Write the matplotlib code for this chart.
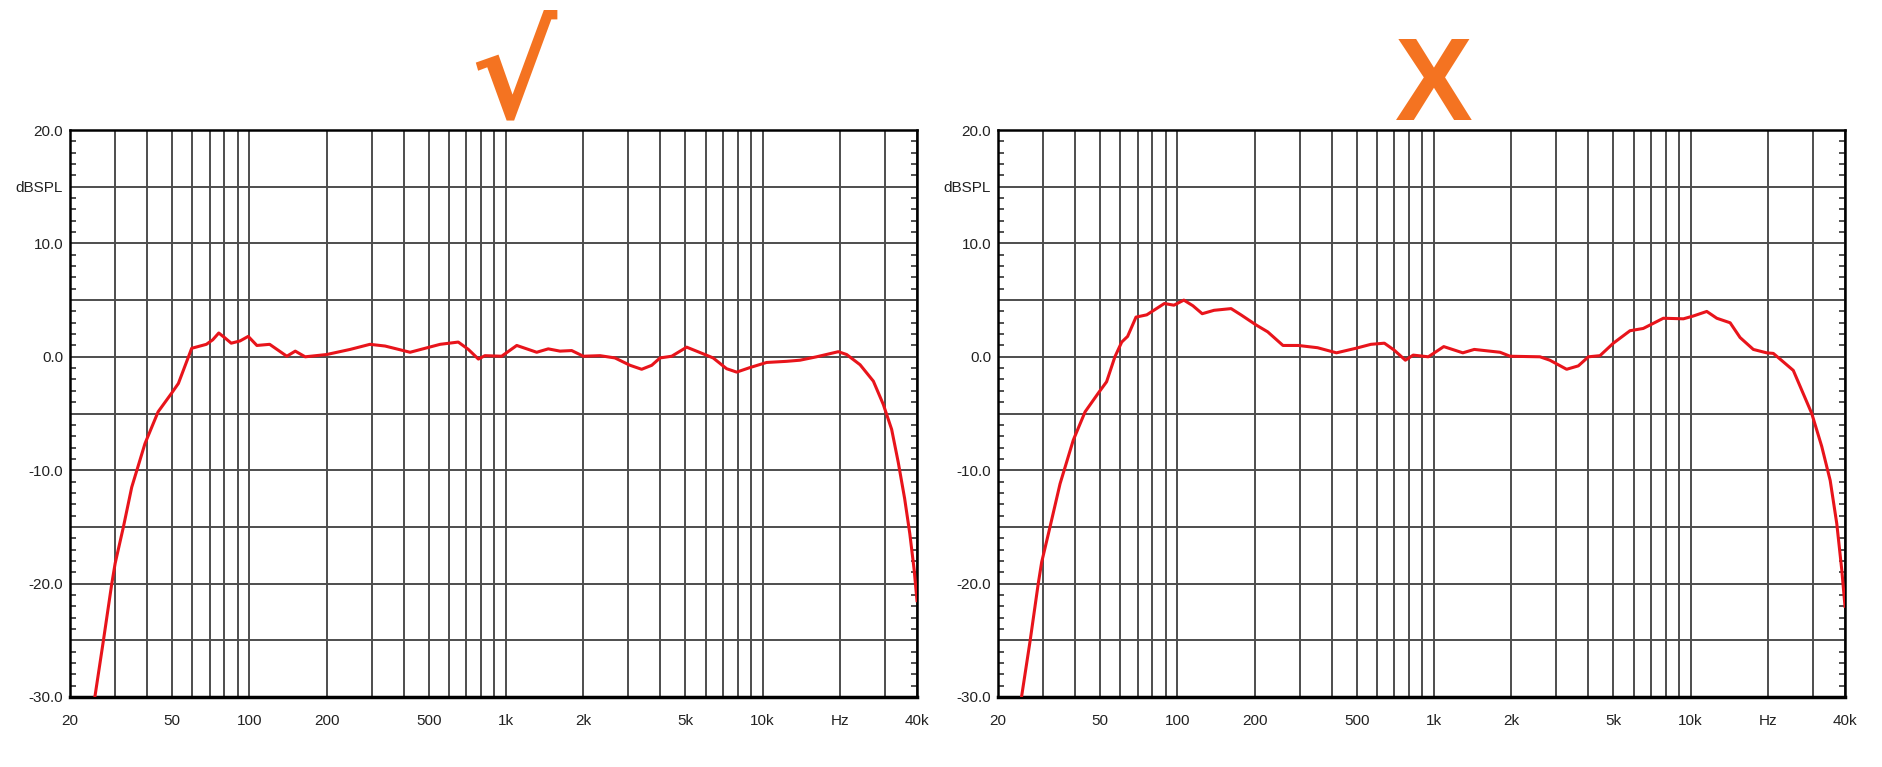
import matplotlib
matplotlib.use("Agg")
import matplotlib.pyplot as plt
from matplotlib.ticker import FixedLocator, FixedFormatter, MultipleLocator

# ---------------- data ----------------
left_freq = [25.0, 27, 29.1, 30, 32.3, 34.8, 39.2, 44.1, 49.8, 52.9, 59.6, 68, 72, 76, 80, 85, 92,
             99, 107, 120, 140, 151, 165, 200, 247, 295, 338, 423, 554, 652, 714, 781, 828, 962,
             1102, 1318, 1462, 1624, 1804, 2003, 2326, 2660, 3046, 3380, 3700, 3986, 4426, 5064,
             5963, 6420, 7245, 7930, 8935, 10370, 12410, 14000, 16240, 19740, 21280, 24000, 27040,
             29560, 31860, 33800, 35800, 37500, 39000, 40000]
left_db = [-30, -25, -20, -18.2, -15, -11.5, -7.65, -4.85, -3.2, -2.35, 0.75, 1.1, 1.5, 2.1, 1.7, 1.2, 1.4,
           1.8, 1.0, 1.1, 0.05, 0.5, 0.0, 0.2, 0.65, 1.1, 0.95, 0.4, 1.1, 1.3, 0.65, -0.2, 0.1, 0.05,
           1.0, 0.4, 0.7, 0.5, 0.55, 0.05, 0.1, -0.1, -0.75, -1.1, -0.75, -0.1, 0.05, 0.85,
           0.2, -0.1, -1.05, -1.35, -0.95, -0.5, -0.4, -0.3, 0.0, 0.45, 0.2, -0.7, -2.15,
           -4.2, -6.4, -9.3, -12.5, -15.6, -18.8, -21.5]

right_freq = [24.7, 26.7, 28.7, 29.6, 31.9, 34.9, 39.3, 43.7, 49.2, 53, 57.1, 60.7, 64, 69, 76, 89, 97,
              106, 115, 125, 139, 162, 177, 203, 225, 258, 296, 352, 417, 496, 568, 641, 699, 774,
              830, 951, 1092, 1296, 1436, 1810, 1980, 2590, 2830, 3290, 3654, 4000, 4437, 5003,
              5811, 6543, 7836, 9380, 10260, 11570, 12660, 14270, 15600, 17570, 19800, 21020,
              22330, 25150, 29680, 32460, 35020, 37150, 38860, 40000]
right_db = [-30, -25, -20, -18.1, -15, -11.2, -7.35, -4.85, -3.2, -2.2, 0.0, 1.3, 1.8, 3.5, 3.7, 4.7, 4.55,
            5.0, 4.5, 3.8, 4.1, 4.25, 3.7, 2.8, 2.2, 1.0, 1.0, 0.8, 0.35, 0.75, 1.1, 1.2, 0.6, -0.3,
            0.15, 0.0, 0.9, 0.35, 0.65, 0.4, 0.05, 0.0, -0.3, -1.1, -0.8, 0.0, 0.1, 1.2,
            2.3, 2.5, 3.4, 3.35, 3.6, 4.0, 3.4, 3.0, 1.7, 0.65, 0.35, 0.3,
            -0.2, -1.2, -5.0, -7.9, -10.9, -14.7, -18.8, -22.0]

x_grid = [20, 30, 40, 50, 60, 70, 80, 90, 100, 200, 300, 400, 500, 600, 700, 800, 900,
          1000, 2000, 3000, 4000, 5000, 6000, 7000, 8000, 9000, 10000, 20000, 30000, 40000]
x_labels = {20: "20", 50: "50", 100: "100", 200: "200", 500: "500", 1000: "1k", 2000: "2k",
            5000: "5k", 10000: "10k", 20000: "Hz", 40000: "40k"}
y_grid = [-30, -25, -20, -15, -10, -5, 0, 5, 10, 15, 20]
y_labels = ["-30.0", "", "-20.0", "", "-10.0", "", "0.0", "", "10.0", "dBSPL", "20.0"]

marks = ["\u221a", "X"]

# ---------------- figure ----------------
W, H = 1883, 767
fig = plt.figure(figsize=(W / 100, H / 100), dpi=100)
fig.patch.set_facecolor("white")

plt.rcParams["font.family"] = ["Liberation Sans", "DejaVu Sans"]

panels = [(70, left_freq, left_db), (998, right_freq, right_db)]
for x0, fr, db in panels:
    ax = fig.add_axes([x0 / W, (H - 697) / H, 847 / W, 567 / H])
    ax.set_xscale("log")
    ax.set_xlim(20, 40000)
    ax.set_ylim(-30, 20)
    ax.xaxis.set_major_locator(FixedLocator(x_grid))
    ax.xaxis.set_major_formatter(FixedFormatter([x_labels.get(v, "") for v in x_grid]))
    ax.xaxis.set_minor_locator(FixedLocator([]))
    ax.yaxis.set_major_locator(FixedLocator(y_grid))
    ax.yaxis.set_major_formatter(FixedFormatter(y_labels))
    ax.yaxis.set_minor_locator(MultipleLocator(1))
    ax.grid(True, which="major", color="#4d4d4d", linewidth=1.4)
    ax.set_axisbelow(True)
    ax.tick_params(axis="x", which="major", length=0, pad=12, labelsize=11, colors="#222222")
    ax.tick_params(axis="y", which="major", length=0, pad=5, labelsize=11, colors="#222222")
    ax.tick_params(axis="y", which="minor", direction="in", length=4, width=1.2,
                   left=True, right=True, color="#333333")
    for s in ax.spines.values():
        s.set_color("black")
        s.set_linewidth(1.8)
    ax.spines["bottom"].set_linewidth(2.5)
    ax.plot(fr, db, color="#e8141b", linewidth=2.2, solid_joinstyle="round", zorder=3)

fig.text(513 / W, (H - 117) / H, marks[0], color="#f47321", fontsize=93,
         ha="center", va="baseline", family="DejaVu Sans", fontweight="bold")
fig.text(1434 / W, (H - 120) / H, marks[1], color="#f47321", fontsize=84,
         ha="center", va="baseline", family="Liberation Sans", fontweight="bold")

fig.savefig("out.png", dpi=100, facecolor="white")
